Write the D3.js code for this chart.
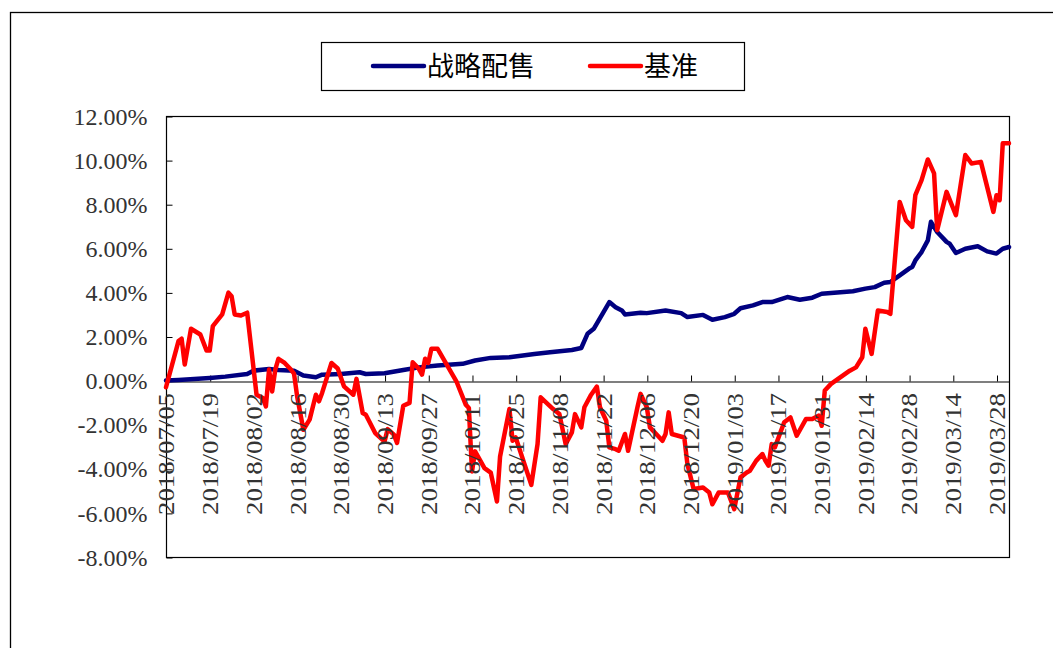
<!DOCTYPE html>
<html>
<head>
<meta charset="utf-8">
<script src="https://cdn.jsdelivr.net/npm/d3@7/dist/d3.min.js"></script>
<style>
  body { margin: 0; background: #fff; }
</style>
</head>
<body>
<div id="chart"></div>
<script>
// series (dates are the visible turning points)
const seriesNames = ["战略配售", "基准"]
const seriesColors = ["#000080", "#ff0000"]

const stratDates = [
  "2018/07/05", "2018/07/09", "2018/07/19", "2018/07/24", "2018/07/31", "2018/08/02", "2018/08/07",
  "2018/08/10", "2018/08/15", "2018/08/18", "2018/08/22", "2018/08/24", "2018/08/30", "2018/09/05",
  "2018/09/07", "2018/09/13", "2018/09/19", "2018/09/24", "2018/09/30", "2018/10/08", "2018/10/12",
  "2018/10/17", "2018/10/23", "2018/10/31", "2018/11/05", "2018/11/12", "2018/11/15", "2018/11/17",
  "2018/11/19", "2018/11/24", "2018/11/26", "2018/11/28", "2018/11/29", "2018/12/04", "2018/12/06",
  "2018/12/12", "2018/12/17", "2018/12/19", "2018/12/24", "2018/12/27", "2018/12/31", "2019/01/03",
  "2019/01/05", "2019/01/09", "2019/01/12", "2019/01/15", "2019/01/20", "2019/01/24", "2019/01/28",
  "2019/01/31", "2019/02/10", "2019/02/14", "2019/02/17", "2019/02/20", "2019/02/22", "2019/02/25",
  "2019/02/28", "2019/03/01", "2019/03/02", "2019/03/04", "2019/03/06", "2019/03/07", "2019/03/09",
  "2019/03/12", "2019/03/13", "2019/03/15", "2019/03/18", "2019/03/22", "2019/03/25", "2019/03/28",
  "2019/03/30", "2019/04/01"
]
const stratValues = [
  0.00, 0.03, 0.12, 0.18, 0.30, 0.45, 0.53,
  0.48, 0.45, 0.23, 0.15, 0.27, 0.30, 0.38,
  0.30, 0.33, 0.48, 0.60, 0.68, 0.76, 0.91,
  1.03, 1.06, 1.21, 1.29, 1.39, 1.48, 2.12,
  2.35, 3.56, 3.33, 3.18, 3.00, 3.08, 3.06,
  3.18, 3.06, 2.88, 2.98, 2.76, 2.88, 3.03,
  3.28, 3.41, 3.56, 3.56, 3.79, 3.67, 3.76,
  3.94, 4.05, 4.17, 4.24, 4.44, 4.47, 4.77,
  5.08, 5.15, 5.45, 5.83, 6.36, 7.20, 6.74,
  6.29, 6.21, 5.79, 5.98, 6.09, 5.86, 5.76,
  5.98, 6.06
]

const benchDates = [
  "2018/07/05", "2018/07/09", "2018/07/10", "2018/07/11", "2018/07/13", "2018/07/16", "2018/07/18",
  "2018/07/19", "2018/07/20", "2018/07/23", "2018/07/25", "2018/07/26", "2018/07/27", "2018/07/29",
  "2018/07/31", "2018/08/03", "2018/08/05", "2018/08/06", "2018/08/07", "2018/08/08", "2018/08/09",
  "2018/08/10", "2018/08/12", "2018/08/14", "2018/08/15", "2018/08/16", "2018/08/18", "2018/08/20",
  "2018/08/22", "2018/08/23", "2018/08/24", "2018/08/27", "2018/08/29", "2018/08/31", "2018/09/03",
  "2018/09/04", "2018/09/06", "2018/09/07", "2018/09/10", "2018/09/13", "2018/09/14", "2018/09/16",
  "2018/09/17", "2018/09/19", "2018/09/21", "2018/09/22", "2018/09/24", "2018/09/25", "2018/09/26",
  "2018/09/27", "2018/09/28", "2018/09/30", "2018/10/06", "2018/10/09", "2018/10/10", "2018/10/11",
  "2018/10/12", "2018/10/15", "2018/10/17", "2018/10/19", "2018/10/20", "2018/10/23", "2018/10/24",
  "2018/10/25", "2018/10/30", "2018/11/01", "2018/11/02", "2018/11/06", "2018/11/08", "2018/11/10",
  "2018/11/12", "2018/11/13", "2018/11/15", "2018/11/16", "2018/11/18", "2018/11/20", "2018/11/21",
  "2018/11/23", "2018/11/24", "2018/11/26", "2018/11/27", "2018/11/29", "2018/11/30", "2018/12/03",
  "2018/12/04", "2018/12/06", "2018/12/07", "2018/12/09", "2018/12/11", "2018/12/12", "2018/12/13",
  "2018/12/14", "2018/12/18", "2018/12/19", "2018/12/21", "2018/12/24", "2018/12/26", "2018/12/27",
  "2018/12/29", "2019/01/01", "2019/01/03", "2019/01/05", "2019/01/07", "2019/01/08", "2019/01/10",
  "2019/01/12", "2019/01/13", "2019/01/14", "2019/01/15", "2019/01/16", "2019/01/19", "2019/01/21",
  "2019/01/23", "2019/01/26", "2019/01/28", "2019/01/30", "2019/01/31", "2019/02/01", "2019/02/03",
  "2019/02/09", "2019/02/11", "2019/02/13", "2019/02/14", "2019/02/16", "2019/02/18", "2019/02/21",
  "2019/02/22", "2019/02/25", "2019/02/27", "2019/03/01", "2019/03/02", "2019/03/04", "2019/03/06",
  "2019/03/08", "2019/03/09", "2019/03/12", "2019/03/15", "2019/03/18", "2019/03/20", "2019/03/23",
  "2019/03/27", "2019/03/28", "2019/03/29", "2019/03/30", "2019/04/01"
]
const benchValues = [
  -0.30, 1.79, 1.90, 0.73, 2.35, 2.09, 1.36,
  1.36, 2.47, 3.00, 3.99, 3.83, 3.00, 2.95,
  3.08, -0.64, -0.79, -1.17, 0.50, -0.49, 0.50,
  0.99, 0.80, 0.50, 0.32, -0.71, -2.23, -1.77,
  -0.64, -0.94, -0.56, 0.80, 0.55, -0.26, -0.64,
  0.08, -1.47, -1.55, -2.38, -2.76, -2.20, -2.45,
  -2.83, -1.14, -1.01, 0.83, 0.53, 0.27, 0.99,
  0.80, 1.44, 1.44, -0.03, -1.09, -1.24, -4.12,
  -3.21, -3.97, -4.17, -5.48, -3.44, -1.29, -2.73,
  -2.58, -4.73, -2.88, -0.76, -1.29, -1.52, -2.88,
  -2.35, -1.52, -2.12, -1.21, -0.68, -0.27, -1.21,
  -1.82, -3.03, -3.11, -3.18, -2.42, -3.18, -1.21,
  -0.60, -1.21, -2.12, -2.42, -2.73, -2.42, -1.44,
  -2.42, -2.58, -3.79, -4.92, -4.85, -5.08, -5.61,
  -5.08, -5.08, -5.83, -4.39, -4.17, -4.09, -3.64,
  -3.33, -3.64, -3.86, -2.88, -3.03, -1.89, -1.67,
  -2.50, -1.74, -1.74, -1.59, -2.05, -0.45, -0.15,
  0.45, 0.60, 1.06, 2.35, 1.21, 3.18, 3.11,
  3.03, 8.10, 7.27, 6.97, 8.41, 9.09, 10.03,
  9.40, 6.82, 8.56, 7.50, 10.23, 9.85, 9.92,
  7.65, 8.41, 8.18, 10.76, 10.76
]

const xTickLabels = [
  "2018/07/05", "2018/07/19", "2018/08/02", "2018/08/16", "2018/08/30", "2018/09/13", "2018/09/27",
  "2018/10/11", "2018/10/25", "2018/11/08", "2018/11/22", "2018/12/06", "2018/12/20", "2019/01/03",
  "2019/01/17", "2019/01/31", "2019/02/14", "2019/02/28", "2019/03/14", "2019/03/28"
]
const xDomain = ["2018/07/05", "2019/04/01"]
const yTicks = [12, 10, 8, 6, 4, 2, 0, -2, -4, -6, -8]

const parseDate = d3.timeParse("%Y/%m/%d")

const width = 1053
const height = 648
const marginLeft = 166
const plotRight = 1009
const plotTop = 116
const plotBottom = 557

const svg = d3.select("#chart").append("svg")
    .attr("width", width)
    .attr("height", height)
    .attr("viewBox", [0, 0, width, height])
    .style("display", "block")

svg.append("rect")
    .attr("width", width).attr("height", height)
    .attr("fill", "#fff")

// outer chart frame (runs off the right and bottom of the picture)
svg.append("rect")
    .attr("x", 10.5).attr("y", 12.5)
    .attr("width", 1200).attr("height", 800)
    .attr("fill", "none")
    .attr("stroke", "#000")
    .attr("stroke-width", 1.3)

const x = d3.scaleTime()
    .domain(xDomain.map(parseDate))
    .range([marginLeft, plotRight])

const y = d3.scaleLinear()
    .domain([-8, 12])
    .range([plotBottom, plotTop])

// plot area border
svg.append("rect")
    .attr("x", marginLeft + 0.5).attr("y", plotTop + 0.5)
    .attr("width", plotRight - marginLeft).attr("height", plotBottom - plotTop)
    .attr("fill", "none")
    .attr("stroke", "#000")
    .attr("stroke-width", 1.2)

// y axis, ticks pointing inward
svg.append("g")
    .attr("transform", `translate(${marginLeft + 0.5},0.5)`)
    .call(d3.axisLeft(y).tickValues(yTicks).tickSizeInner(-6).tickSizeOuter(0).tickPadding(19)
        .tickFormat(d => d.toFixed(2) + "%"))
    .call(g => g.select(".domain").remove())
    .call(g => g.selectAll("line").attr("stroke", "#000"))
    .call(g => g.selectAll("text")
        .attr("font-family", "'Liberation Serif', 'DejaVu Serif', serif")
        .attr("font-size", 24)
        .attr("fill", "#333"))

// x axis along the 0% line, ticks pointing up
const xTickDates = xTickLabels.map(parseDate)
svg.append("g")
    .attr("transform", `translate(0.5,${Math.round(y(0)) + 0.5})`)
    .call(d3.axisBottom(x).tickValues(xTickDates).tickSizeInner(-6).tickSizeOuter(0).tickFormat(""))
    .call(g => g.select(".domain").attr("stroke", "#000").attr("stroke-width", 1.2))
    .call(g => g.selectAll("line").attr("stroke", "#000"))

// lines
const line = d3.line()
    .x(d => x(d.date))
    .y(d => y(d.value))

const series = [
    { name: seriesNames[0], color: seriesColors[0], data: stratDates.map((d, i) => ({ date: parseDate(d), value: stratValues[i] })) },
    { name: seriesNames[1], color: seriesColors[1], data: benchDates.map((d, i) => ({ date: parseDate(d), value: benchValues[i] })) },
]

svg.append("g")
    .selectAll("path")
    .data(series)
    .join("path")
    .attr("fill", "none")
    .attr("stroke", d => d.color)
    .attr("stroke-width", 4.5)
    .attr("stroke-linejoin", "round")
    .attr("stroke-linecap", "round")
    .attr("d", d => line(d.data))

// rotated date labels, hanging under the 0% line
svg.append("g")
    .selectAll("text")
    .data(xTickLabels)
    .join("text")
    .attr("transform", d => `translate(${x(parseDate(d))},393) rotate(-90)`)
    .attr("text-anchor", "end")
    .attr("dy", "0.35em")
    .attr("font-family", "'Liberation Serif', 'DejaVu Serif', serif")
    .attr("font-size", 24)
    .attr("fill", "#333")
    .attr("textLength", 122)
    .attr("lengthAdjust", "spacingAndGlyphs")
    .text(d => d)

// legend
const legend = svg.append("g")
legend.append("rect")
    .attr("x", 321.5).attr("y", 42.5)
    .attr("width", 423).attr("height", 48)
    .attr("fill", "#fff")
    .attr("stroke", "#000")
    .attr("stroke-width", 1.2)

const legendItems = [
    { name: seriesNames[0], color: seriesColors[0], x: 373 },
    { name: seriesNames[1], color: seriesColors[1], x: 590 },
]
const li = legend.selectAll("g.item")
    .data(legendItems)
    .join("g")
    .attr("class", "item")
    .attr("transform", d => `translate(${d.x},66)`)
li.append("line")
    .attr("x1", 0).attr("x2", 51)
    .attr("stroke", d => d.color)
    .attr("stroke-width", 4.5)
    .attr("stroke-linecap", "round")
li.append("text")
    .attr("x", 54)
    .attr("dy", "0.36em")
    .attr("font-family", "'Noto Sans CJK SC', sans-serif")
    .attr("font-size", 27)
    .attr("fill", "#000")
    .text(d => d.name)
</script>
</body>
</html>
